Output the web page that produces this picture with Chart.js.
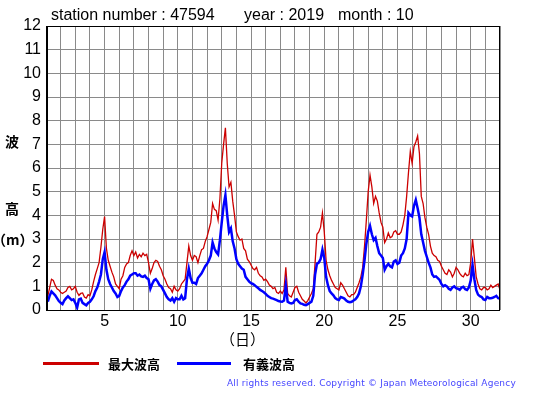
<!DOCTYPE html>
<html>
<head>
<meta charset="utf-8">
<script src="https://cdn.jsdelivr.net/npm/chart.js@4.4.1/dist/chart.umd.min.js"></script>
<style>
  body { margin: 0; background: #fff; }
  #wrap { position: relative; width: 555px; height: 395px; }
  #wave { position: absolute; left: 0; top: 0; }
  .t { position: absolute; white-space: nowrap; font-family: "Liberation Sans", Arial, sans-serif; color: #000; }
  .jp { position: absolute; white-space: nowrap; font-family: "Noto Sans CJK JP", sans-serif; font-weight: bold; color: #000; }
  .head { font-size: 16px; top: 6px; }
  .leg { position: absolute; height: 3px; top: 362px; }
  #copy { position: absolute; left: 227px; top: 378px; font-family: "DejaVu Sans", sans-serif; font-size: 9px; letter-spacing: 0.2px; color: #4646ff; white-space: nowrap; }
</style>
</head>
<body>
<div id="wrap">
  <canvas id="wave" width="555" height="395"></canvas>
  <span class="t head" style="left:51px">station number : 47594</span>
  <span class="t head" style="left:244px">year : 2019</span>
  <span class="t head" style="left:338px">month : 10</span>
  <span class="jp" style="left:5px;top:131px;font-size:14px">波</span>
  <span class="jp" style="left:5px;top:198px;font-size:14px">高</span>
  <span class="jp" style="left:-8px;top:229px;font-size:14px">（m）</span>
  <span class="jp" style="left:220px;top:328px;font-size:15px;font-weight:normal">（日）</span>
  <div class="leg" style="left:43px;width:56px;background:#cc0000"></div>
  <span class="jp" style="left:108px;top:354px;font-size:13px">最大波高</span>
  <div class="leg" style="left:177px;width:54px;background:#0000ff"></div>
  <span class="jp" style="left:243px;top:354px;font-size:13px">有義波高</span>
  <div id="copy">All rights reserved. Copyright © Japan Meteorological Agency</div>
</div>
<script>
// 3-hourly readings, Oct 1 03h .. Nov 1 00h (8 values per day)
var maxWave = [
  0.6, 0.95, 1.3, 1.25, 1.05, 0.9, 0.85, 0.75,   // 1
  0.7, 0.75, 0.8, 0.95, 1.0, 0.85, 0.9, 1.0,     // 2
  0.75, 0.62, 0.7, 0.72, 0.55, 0.5, 0.65, 0.6,   // 3
  0.85, 1.2, 1.5, 1.75, 2.0, 2.65, 3.4, 3.95,    // 4
  2.6, 2.1, 1.85, 1.6, 1.4, 1.1, 1.0, 0.9,       // 5
  1.3, 1.45, 1.8, 1.95, 2.0, 2.3, 2.5, 2.3,      // 6
  2.45, 2.2, 2.35, 2.25, 2.4, 2.3, 2.35, 2.0,    // 7
  1.55, 1.75, 2.0, 2.1, 2.05, 1.85, 1.7, 1.45,   // 8
  1.3, 1.1, 0.95, 0.9, 0.75, 1.0, 0.85, 0.8,     // 9
  0.9, 1.1, 1.2, 1.3, 2.0, 2.7, 2.3, 2.1,        // 10
  2.3, 2.25, 2.0, 2.3, 2.55, 2.6, 2.9, 3.1,      // 11
  3.4, 3.7, 4.5, 4.25, 4.2, 3.8, 4.7, 6.2,       // 12
  7.0, 7.7, 6.2, 5.2, 5.4, 4.6, 4.0, 3.3,        // 13
  3.1, 2.95, 3.0, 2.6, 2.5, 2.15, 2.05, 1.9,     // 14
  1.75, 1.7, 1.8, 1.55, 1.45, 1.4, 1.25, 1.3,    // 15
  1.2, 1.05, 1.0, 0.9, 0.95, 0.75, 0.7, 0.8,     // 16
  0.7, 0.85, 1.8, 0.7, 0.6, 0.55, 0.75, 0.95,    // 17
  1.0, 0.75, 0.6, 0.45, 0.38, 0.3, 0.4, 0.55,    // 18
  0.7, 0.9, 2.0, 3.2, 3.3, 3.5, 4.1, 3.3,        // 19
  2.1, 1.7, 1.45, 1.25, 1.1, 0.95, 0.9, 0.85,    // 20
  1.15, 1.05, 0.9, 0.75, 0.6, 0.55, 0.65, 0.65,  // 21
  0.75, 0.95, 1.15, 1.4, 1.8, 2.7, 3.8, 5.0,     // 22
  5.7, 5.2, 4.5, 4.8, 4.6, 4.1, 3.7, 3.5,        // 23
  2.85, 3.0, 3.25, 3.05, 3.1, 3.3, 3.35, 3.2,    // 24
  3.2, 3.3, 3.6, 4.0, 4.8, 5.8, 6.7, 6.2,        // 25
  6.9, 7.1, 7.35, 6.6, 4.8, 4.5, 3.9, 3.5,       // 26
  3.2, 2.7, 2.4, 2.3, 2.25, 2.1, 2.05, 1.85,     // 27
  1.7, 1.55, 1.5, 1.7, 1.6, 1.4, 1.55, 1.8,      // 28
  1.7, 1.55, 1.45, 1.4, 1.55, 1.45, 1.5, 2.0,    // 29
  3.0, 2.2, 1.4, 1.1, 0.9, 0.85, 0.95, 0.95,     // 30
  0.85, 0.9, 1.05, 0.95, 1.0, 1.05, 1.1, 0.85    // 31
];
var sigWave = [
  0.35, 0.6, 0.78, 0.7, 0.62, 0.5, 0.38, 0.3,    // 1
  0.25, 0.4, 0.5, 0.58, 0.5, 0.42, 0.45, 0.3,    // 2
  0.1, 0.45, 0.48, 0.3, 0.25, 0.2, 0.3, 0.35,    // 3
  0.45, 0.58, 0.8, 0.95, 1.2, 1.5, 2.15, 2.45,   // 4
  1.7, 1.3, 1.1, 0.95, 0.8, 0.7, 0.55, 0.6,      // 5
  0.8, 0.95, 1.05, 1.2, 1.3, 1.45, 1.5, 1.55,    // 6
  1.55, 1.45, 1.5, 1.42, 1.4, 1.45, 1.35, 1.3,   // 7
  0.9, 1.1, 1.25, 1.3, 1.2, 1.05, 1.0, 0.85,     // 8
  0.7, 0.55, 0.45, 0.4, 0.5, 0.35, 0.5, 0.45,    // 9
  0.45, 0.6, 0.45, 0.5, 1.3, 1.75, 1.35, 1.15,   // 10
  1.15, 1.1, 1.35, 1.45, 1.55, 1.7, 1.85, 1.95,  // 11
  2.1, 2.3, 2.85, 2.6, 2.45, 2.35, 2.95, 3.7,    // 12
  4.4, 4.85, 4.0, 3.3, 3.45, 2.9, 2.6, 2.15,     // 13
  1.95, 1.85, 1.75, 1.7, 1.4, 1.3, 1.2, 1.13,    // 14
  1.1, 1.05, 0.98, 0.92, 0.85, 0.8, 0.75, 0.68,  // 15
  0.6, 0.55, 0.5, 0.48, 0.45, 0.42, 0.38, 0.36,  // 16
  0.35, 0.4, 1.05, 0.35, 0.3, 0.28, 0.3, 0.42,   // 17
  0.45, 0.35, 0.28, 0.26, 0.22, 0.2, 0.25, 0.3,  // 18
  0.35, 0.6, 1.5, 1.95, 2.0, 2.15, 2.55, 2.2,    // 19
  1.4, 1.05, 0.8, 0.7, 0.62, 0.5, 0.45, 0.42,    // 20
  0.55, 0.52, 0.48, 0.4, 0.35, 0.33, 0.35, 0.4,  // 21
  0.45, 0.55, 0.7, 1.0, 1.5, 2.1, 2.8, 3.3,      // 22
  3.55, 3.2, 2.95, 3.05, 2.7, 2.4, 2.3, 2.2,     // 23
  1.7, 1.85, 1.95, 1.85, 1.8, 2.05, 2.1, 1.95,   // 24
  2.0, 2.3, 2.4, 2.6, 3.0, 4.1, 4.0, 3.95,       // 25
  4.4, 4.65, 4.3, 3.9, 3.2, 2.85, 2.5, 2.25,     // 26
  2.0, 1.8, 1.5, 1.4, 1.42, 1.35, 1.27, 1.1,     // 27
  1.0, 1.05, 1.0, 0.9, 0.85, 0.95, 1.0, 0.92,    // 28
  0.9, 0.85, 0.95, 0.98, 0.88, 0.85, 0.95, 1.25, // 29
  1.9, 1.3, 0.85, 0.65, 0.58, 0.55, 0.45, 0.42,  // 30
  0.55, 0.5, 0.5, 0.52, 0.55, 0.6, 0.5, 0.48     // 31
];
var dayTicks = [5, 10, 15, 20, 25, 30];
var waveTicks = [0, 1, 2, 3, 4, 5, 6, 7, 8, 9, 10, 11, 12];

// time of each reading in days (day 1.0 = Oct 1 00h)
function toPoints(vals) {
  return vals.map(function (v, i) { return { x: 1 + (i + 1) / 8, y: v }; });
}

var frame = {
  id: 'frame',
  afterDraw: function (chart) {
    var a = chart.chartArea, ctx = chart.ctx;
    ctx.save();
    ctx.strokeStyle = '#000';
    ctx.lineWidth = 1;
    ctx.strokeRect(a.left + 0.5, a.top + 0.5, a.right - a.left - 1, a.bottom - a.top);
    ctx.lineWidth = 2;
    ctx.beginPath();
    ctx.moveTo(a.left + 1, a.top);
    ctx.lineTo(a.left + 1, a.bottom + 1);
    ctx.stroke();
    ctx.restore();
  }
};

new Chart(document.getElementById('wave'), {
  type: 'line',
  data: {
    datasets: [{
      label: '有義波高',
      data: toPoints(sigWave),
      borderColor: '#0000ff',
      borderWidth: 2.5,
      pointRadius: 0,
      tension: 0
    }, {
      label: '最大波高',
      data: toPoints(maxWave),
      borderColor: '#cc0000',
      borderWidth: 1.3,
      pointRadius: 0,
      tension: 0
    }]
  },
  options: {
    responsive: false,
    animation: false,
    devicePixelRatio: 1,
    layout: { padding: { top: 26, right: 55, bottom: 0, left: 0 } },
    plugins: { legend: { display: false }, tooltip: { enabled: false } },
    scales: {
      x: {
        type: 'linear',
        min: 1,
        max: 32,
        afterFit: function (s) { s.height = 85; },
        grid: { color: '#8a8a8a', lineWidth: 1, drawTicks: false, tickLength: 0 },
        border: { display: false },
        ticks: {
          stepSize: 1,
          autoSkip: false,
          maxRotation: 0,
          padding: 2,
          color: '#000',
          font: { family: 'Liberation Sans', size: 16 },
          callback: function (v) { return dayTicks.indexOf(v) >= 0 ? String(v) : ''; }
        }
      },
      y: {
        min: 0,
        max: 12,
        afterFit: function (s) { s.width = 46; },
        grid: { color: '#8a8a8a', lineWidth: 1, drawTicks: false, tickLength: 0 },
        border: { display: false },
        ticks: {
          stepSize: 1,
          padding: 5,
          color: '#000',
          font: { family: 'Liberation Sans', size: 16 },
          callback: function (v) { return waveTicks.indexOf(v) >= 0 ? String(v) : ''; }
        }
      }
    }
  },
  plugins: [frame]
});
</script>
</body>
</html>
